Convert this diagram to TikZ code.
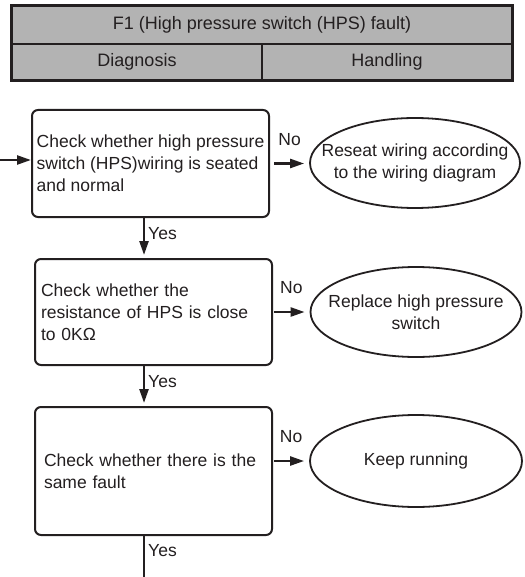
\documentclass[tikz,border=0pt]{standalone}
\usepackage{fontspec}
\setmainfont{Liberation Sans}
\usetikzlibrary{arrows.meta,positioning,shapes.geometric}
\definecolor{hpink}{HTML}{231F20}
\definecolor{hphead}{HTML}{B3B3B3}
\definecolor{hppage}{HTML}{FFFFFF}
\tikzset{
  hpcell/.style={
    draw=hpink,
    fill=hphead,
    line width=1.6pt,
    text=hpink,
    inner sep=0pt,
    font=\fontsize{18}{22}\selectfont
  },
  hpcheck/.style={
    draw=hpink,
    rounded corners=6pt,
    line width=2pt,
    fill=hppage,
    text=hpink,
    align=left,
    minimum width=237pt,
    inner sep=0pt,
    font=\fontsize{17.5}{22}\selectfont
  },
  hpaction/.style={
    ellipse,
    draw=hpink,
    line width=1.8pt,
    fill=hppage,
    text=hpink,
    align=center,
    minimum width=211pt,
    minimum height=90pt,
    inner xsep=-30pt,
    inner ysep=0pt,
    font=\fontsize{17.5}{22}\selectfont
  },
  hpedge/.style={
    -{Triangle[length=14pt,width=9pt]},
    line width=2.4pt,
    draw=hpink
  },
  hplabel/.style={
    text=hpink,
    inner sep=1pt,
    font=\fontsize{17.5}{22}\selectfont
  }
}
\begin{document}
\begin{tikzpicture}[x=1pt,y=-1pt]
  \useasboundingbox (0,0) rectangle (524,577);

  % header table
  \node[hpcell, minimum width=500pt, minimum height=38pt] (hdtitle) at (262,25) {F1 (High pressure switch (HPS) fault)};
  \node[hpcell, minimum width=250pt, minimum height=36pt] (hddiag) at (137,62) {Diagnosis};
  \node[hpcell, minimum width=250pt, minimum height=36pt] (hdhand) at (387,62) {Handling};
  \draw[hpink, line width=2.6pt] (hdtitle.north west) rectangle (hdhand.south east);

  % checks
  \node[hpcheck, minimum height=107pt] (chkwiring) at (150.5,163.5) {Check whether high pressure\\switch (HPS)wiring is seated\\and normal};
  \node[hpcheck, minimum height=106pt, text width=225pt] (chkres) at (153.5,312) {Check whether the\\resistance of HPS is close\\to 0KΩ};
  \node[hpcheck, minimum height=128pt, text width=219pt] (chkfault) at (153.5,471) {Check whether there is the\\same fault};

  % actions
  \node[hpaction, minimum width=210pt] (actreseat) at (415,163) {Reseat wiring according\\to the wiring diagram};
  \node[hpaction] (actreplace) at (416,312) {Replace high pressure\\switch};
  \node[hpaction, minimum width=212pt, minimum height=92pt] (actkeep) at (416,461) {Keep running};

  \coordinate (entry) at (0,160);
  \coordinate (spine) at (144,0);
  \coordinate (exit) at (144,577);

  \draw[hpedge] (entry) -- (entry -| chkwiring.west);

  \draw[hpedge, shorten <=4pt, shorten >=5pt] (chkwiring.east) -- node[hplabel, yshift=24pt] {No} (chkwiring.east -| actreseat.west);
  \draw[hpedge, shorten <=1pt, shorten >=5pt] (chkres.east) -- node[hplabel, yshift=24pt] {No} (chkres.east -| actreplace.west);
  \draw[hpedge, shorten <=1pt, shorten >=5pt] (chkfault.east |- actkeep.west) -- node[hplabel, yshift=24pt] {No} (actkeep.west);

  \draw[hpedge, shorten >=3pt] (spine |- chkwiring.south) -- node[hplabel, right, pos=0.4, inner xsep=3pt] {Yes} (spine |- chkres.north);
  \draw[hpedge, shorten >=3pt] (spine |- chkres.south) -- node[hplabel, right, pos=0.4, inner xsep=3pt] {Yes} (spine |- chkfault.north);
  \draw[line width=2.4pt, draw=hpink] (spine |- chkfault.south) -- node[hplabel, right, pos=0.36, inner xsep=3pt] {Yes} (exit);
\end{tikzpicture}
\end{document}
